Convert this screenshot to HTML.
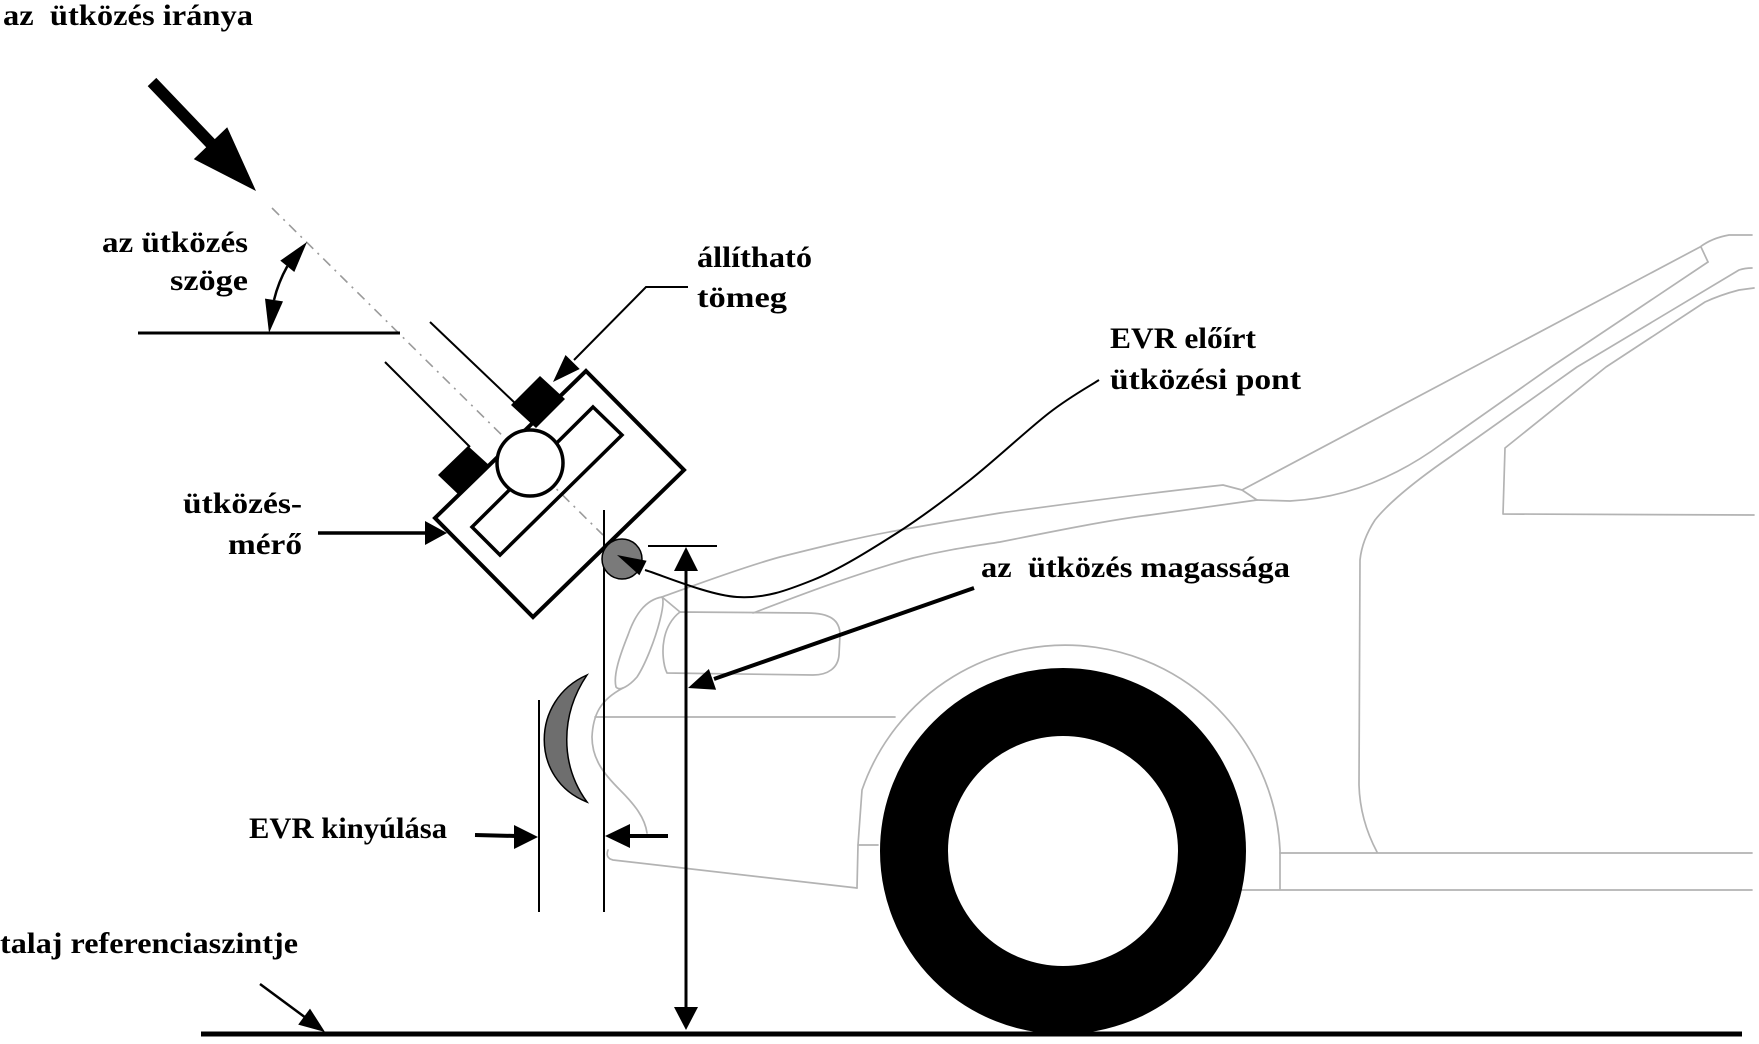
<!DOCTYPE html>
<html>
<head>
<meta charset="utf-8">
<style>
  html, body { margin: 0; padding: 0; background: #fff; }
  svg { display: block; }
  text { font-family: "Liberation Serif", "DejaVu Serif", serif; font-weight: bold; font-size: 30px; fill: #000; }
</style>
</head>
<body>
<svg width="1759" height="1044" viewBox="0 0 1759 1044" xmlns="http://www.w3.org/2000/svg">
  <rect width="1759" height="1044" fill="#fff"/>

  <!-- ===== Car outline (gray) ===== -->
  <g fill="none" stroke="#b3b3b3" stroke-width="1.7" stroke-linejoin="round" stroke-linecap="round">
    <path d="M662,597 C690,587 740,568 780,557 C820,547 860,537 900,530 C950,521 975,517 1000,513 C1080,502 1150,493 1223,485 L1242,490 L1257,500"/>
    <path d="M753,613 C780,603 850,575 913,558 C950,549 975,546 1000,542 C1060,530 1110,520 1150,515 L1257,500"/>
    <path d="M1752,235 L1729,235 Q1712,238 1700,247 L1242,490"/>
    <path d="M1701,247 L1708,262"/>
    <path d="M1708,262 L1551,367 L1443,443 Q1370,497 1290,501 L1257,500"/>
    <path d="M1752,268 Q1745,268 1739,270 L1577,367 L1450,457 Q1395,495 1375,520 Q1362,540 1360,560 L1359,785 Q1360,820 1377,852"/>
    <path d="M1754,288 L1739,290 Q1720,295 1705,302 L1606,367 L1505,448 L1503,514 L1754,515"/>
    <path d="M1280,853 L1752,853"/>
    <path d="M1242,890 L1752,890"/>
    <path d="M857,888 L858,845 L862,790 A215,215 0 0 1 1280,850 L1280,889"/>
    <path d="M858,845 L878,845"/>
    <path d="M595,717 L895,717"/>
    <path d="M623,688 C600,700 593,715 592,737 C592,760 605,775 620,790 C635,805 645,818 647,833"/>
    <path d="M608,850 Q605,858 613,860 L857,888"/>
    <path d="M662,597 C645,600 635,615 628,635 C620,655 613,675 616,687 C620,692 630,685 637,677 C645,665 655,640 660,620 C663,608 664,600 662,597 Z"/>
    <path d="M662,597 L680,612"/>
    <path d="M680,612 L807,613 C830,613 840,620 840,635 L839,655 C838,668 828,675 813,675 L667,673 C663,665 662,650 664,640 C666,628 672,618 680,612 Z"/>
  </g>

  <!-- ===== Wheel ===== -->
  <circle cx="1063" cy="851" r="149" fill="none" stroke="#000" stroke-width="68"/>

  <!-- ===== Ground ===== -->
  <line x1="201" y1="1034" x2="1742" y2="1034" stroke="#000" stroke-width="5"/>

  <!-- ===== Impact direction arrow ===== -->
  <polygon points="147.7,86.1 206.2,147.3 193.8,159.1 256,191 227.2,127.3 214.8,139.1 156.3,77.9" fill="#000"/>

  <!-- dash-dot axis -->
  <line x1="272" y1="208" x2="603" y2="535" stroke="#9a9a9a" stroke-width="1.6" stroke-dasharray="10 6 2 6"/>

  <!-- horizontal reference for angle -->
  <line x1="138" y1="333" x2="400" y2="333" stroke="#000" stroke-width="3"/>
  <path d="M274,300 A133,133 0 0 1 287.3,266.3" fill="none" stroke="#000" stroke-width="2.5"/>
  <polygon points="269,333 283,301.4 265,298.6" fill="#000"/>
  <polygon points="307,242 294.3,272 280.3,260.6" fill="#000"/>

  <!-- guide rails -->
  <line x1="430" y1="322" x2="517" y2="405" stroke="#000" stroke-width="2"/>
  <line x1="385" y1="362" x2="470" y2="447" stroke="#000" stroke-width="2"/>

  <!-- black blocks -->
  <polygon points="540,376 565,399 536,428 511,405" fill="#000"/>
  <polygon points="468,446 490,466 460,496 438,475" fill="#000"/>

  <!-- impactor box -->
  <polygon points="586,371 684,470 533,617 435,518" fill="none" stroke="#000" stroke-width="4" stroke-linejoin="miter"/>
  <polygon points="593,407 622,435 500,555 472,527" fill="none" stroke="#000" stroke-width="3.5"/>
  <circle cx="530" cy="463" r="33" fill="#fff" stroke="#000" stroke-width="3.5"/>

  <!-- vertical reference lines -->
  <line x1="604" y1="510" x2="604" y2="912" stroke="#000" stroke-width="2"/>
  <line x1="539" y1="700" x2="539" y2="912" stroke="#000" stroke-width="2"/>

  <!-- crescent (bumper) -->
  <path d="M587,675 C530,700 530,780 587,802 C560,765 560,715 587,675 Z" fill="#6e6e6e" stroke="#000" stroke-width="1.5"/>

  <!-- EVR impact point -->
  <circle cx="622" cy="559" r="20" fill="#7a7a7a" stroke="#000" stroke-width="1.5"/>
  <polygon points="617,555 646.6,560.8 639.4,575.2" fill="#000"/>
  <path d="M645,570 C660.3,574.5 709,595.3 737,597 C765,598.7 786.3,590.7 813,580 C839.7,569.3 870.8,549.7 897,533 C923.2,516.3 944.7,500 970,480 C995.3,460 1027.5,429.7 1049,413 C1070.5,396.3 1090.7,385.5 1099,380" fill="none" stroke="#000" stroke-width="2"/>

  <!-- height dimension -->
  <line x1="648" y1="546" x2="717" y2="546" stroke="#000" stroke-width="2"/>
  <line x1="686" y1="568" x2="686" y2="1009" stroke="#000" stroke-width="3"/>
  <polygon points="686,547 674,571 698,571" fill="#000"/>
  <polygon points="686,1030 674,1007 698,1007" fill="#000"/>

  <!-- magassága arrow -->
  <line x1="974" y1="588" x2="714" y2="679" stroke="#000" stroke-width="4"/>
  <polygon points="688,688 708.9,669 716.1,689.8" fill="#000"/>

  <!-- állítható tömeg leader -->
  <polyline points="688,287 646,287 574,360" fill="none" stroke="#000" stroke-width="2"/>
  <polygon points="553,382 565.5,355 579.7,369" fill="#000"/>

  <!-- ütközés-mérő arrow -->
  <line x1="318" y1="533" x2="430" y2="533" stroke="#000" stroke-width="3.5"/>
  <polygon points="447,533 425,521 425,545" fill="#000"/>

  <!-- EVR kinyúlása arrows -->
  <line x1="475" y1="835" x2="516" y2="836" stroke="#000" stroke-width="4"/>
  <polygon points="538,837 514,825 514,849" fill="#000"/>
  <line x1="668" y1="836" x2="628" y2="836" stroke="#000" stroke-width="4"/>
  <polygon points="605,836 630,824 630,848" fill="#000"/>

  <!-- ground arrow -->
  <line x1="260" y1="984" x2="306" y2="1018" stroke="#000" stroke-width="2.5"/>
  <polygon points="325,1032 298.2,1024.6 310,1008.6" fill="#000"/>

  <!-- ===== Labels ===== -->
  <text x="3" y="25" textLength="250" lengthAdjust="spacingAndGlyphs">az&#160; ütközés iránya</text>
  <text x="102" y="252" textLength="146" lengthAdjust="spacingAndGlyphs">az ütközés</text>
  <text x="170" y="290" textLength="78" lengthAdjust="spacingAndGlyphs">szöge</text>
  <text x="697" y="267" textLength="115" lengthAdjust="spacingAndGlyphs">állítható</text>
  <text x="697" y="307" textLength="90" lengthAdjust="spacingAndGlyphs">tömeg</text>
  <text x="1110" y="348" textLength="146" lengthAdjust="spacingAndGlyphs">EVR előírt</text>
  <text x="1110" y="389" textLength="191" lengthAdjust="spacingAndGlyphs">ütközési pont</text>
  <text x="183" y="513" textLength="119" lengthAdjust="spacingAndGlyphs">ütközés-</text>
  <text x="228" y="554" textLength="74" lengthAdjust="spacingAndGlyphs">mérő</text>
  <text x="981" y="577" textLength="309" lengthAdjust="spacingAndGlyphs">az&#160; ütközés magassága</text>
  <text x="249" y="838" textLength="198" lengthAdjust="spacingAndGlyphs">EVR kinyúlása</text>
  <text x="0" y="953" textLength="298" lengthAdjust="spacingAndGlyphs">talaj referenciaszintje</text>
</svg>
</body>
</html>
